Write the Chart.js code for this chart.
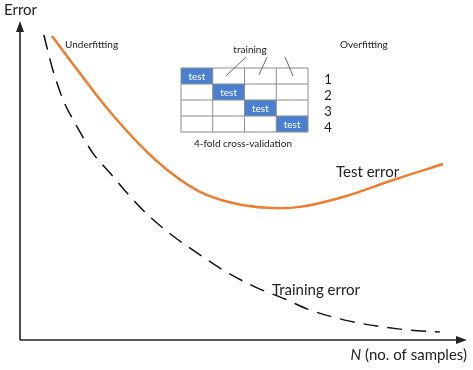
<!DOCTYPE html>
<html><head><meta charset="utf-8">
<script src="https://cdn.jsdelivr.net/npm/chart.js@4"></script>
<style>html,body{margin:0;padding:0;background:#fff}#wrap{width:473px;height:370px}</style>
</head><body><div id="wrap"><canvas id="c" width="473" height="370"></canvas></div>
<script>
// N (relative, 0-100) and error (relative, 0-100)
const testN    = [7.1, 13.3, 19.3, 26.7, 33.3, 40.0, 47.3, 54.9, 62.2, 71.8, 82.9, 94.0];
const testErr  = [95, 83.4, 72.5, 60.9, 52.5, 46.3, 42.8, 41.3, 41.6, 44.7, 50.0, 55.0];
const trainN   = [5.3, 7.3, 9.6, 12.7, 16.2, 20.0, 23.8, 28.4, 34.0, 40.0, 45.8, 52.2, 58.9, 64.4, 73.3, 84.4, 93.3];
const trainErr = [95.3, 84.4, 75, 66.6, 58.4, 52.2, 45.9, 39.1, 32.5, 26.6, 21.3, 16.6, 12.8, 9.4, 5.9, 3.4, 2.5];
const foldLabels = ['1','2','3','4'];
const cellLabel = 'test';

const FONT = 'Lato, "Liberation Sans", sans-serif';

const decor = {
  id: 'decor',
  afterDatasetsDraw(chart) {
    const ctx = chart.ctx, a = chart.chartArea;
    ctx.save();
    // axes with arrows
    ctx.strokeStyle = '#222'; ctx.fillStyle = '#222'; ctx.lineWidth = 1.6;
    ctx.beginPath(); ctx.moveTo(a.left, a.bottom); ctx.lineTo(a.left, a.top + 8);
    ctx.moveTo(a.left, a.bottom); ctx.lineTo(a.right - 10, a.bottom); ctx.stroke();
    ctx.beginPath(); ctx.moveTo(a.left, a.top + 1); ctx.lineTo(a.left - 4, a.top + 12); ctx.lineTo(a.left + 4, a.top + 12); ctx.closePath(); ctx.fill();
    ctx.beginPath(); ctx.moveTo(a.right - 3, a.bottom); ctx.lineTo(a.right - 14, a.bottom - 4); ctx.lineTo(a.right - 14, a.bottom + 4); ctx.closePath(); ctx.fill();

    // texts
    ctx.textBaseline = 'middle';
    ctx.fillStyle = '#222';
    ctx.font = '15px ' + FONT; ctx.textAlign = 'left';
    ctx.fillText('Error', 4, 10);
    ctx.font = '10px ' + FONT;
    ctx.fillText('Underfitting', 65, 45);
    ctx.fillText('Overfitting', 340, 45);
    ctx.font = '15px ' + FONT;
    ctx.fillText('Test error', 336, 172);
    ctx.fillText('Training error', 272, 290);
    // x axis title
    ctx.textAlign = 'right';
    ctx.font = '15px ' + FONT;
    const rest = ' (no. of samples)';
    const wRest = ctx.measureText(rest).width;
    ctx.fillText(rest, 467, 355);
    ctx.font = 'italic 15px ' + FONT;
    ctx.fillText('N', 467 - wRest, 355);

    // cross-validation table
    const tx = 181, ty = 68, cw = 31.75, rh = 16, n = 4;
    for (let r = 0; r < n; r++) {
      ctx.fillStyle = '#4a80d0';
      ctx.fillRect(tx + r * cw, ty + r * rh, cw, rh);
    }
    ctx.strokeStyle = '#8c8c8c'; ctx.lineWidth = 1;
    ctx.beginPath();
    for (let i = 0; i <= n; i++) {
      ctx.moveTo(tx + i * cw, ty); ctx.lineTo(tx + i * cw, ty + n * rh);
      ctx.moveTo(tx, ty + i * rh); ctx.lineTo(tx + n * cw, ty + i * rh);
    }
    ctx.stroke();
    ctx.fillStyle = '#fff'; ctx.font = '10px ' + FONT; ctx.textAlign = 'center';
    for (let r = 0; r < n; r++) ctx.fillText(cellLabel, tx + r * cw + cw / 2, ty + r * rh + rh / 2 + 0.5);
    ctx.fillStyle = '#222'; ctx.font = '13px ' + FONT;
    foldLabels.forEach((l, r) => ctx.fillText(l, 328, ty + r * rh + rh / 2 + 4));
    ctx.font = '10px ' + FONT;
    ctx.fillText('training', 250, 50);
    ctx.fillText('4-fold cross-validation', 243, 144);
    ctx.strokeStyle = '#444'; ctx.lineWidth = 0.8;
    ctx.beginPath();
    ctx.moveTo(246, 57); ctx.lineTo(226, 76);
    ctx.moveTo(267, 57); ctx.lineTo(259, 75);
    ctx.moveTo(285, 57); ctx.lineTo(293, 76);
    ctx.stroke();
    ctx.restore();
  }
};

new Chart(document.getElementById('c'), {
  type: 'line',
  data: {
    datasets: [
      { label: 'Test error', data: testN.map((x, i) => ({x, y: testErr[i]})),
        borderColor: '#ed7d31', borderWidth: 2.5, pointRadius: 0, fill: false, tension: 0.4 },
      { label: 'Training error', data: trainN.map((x, i) => ({x, y: trainErr[i]})),
        borderColor: '#111', borderWidth: 1.5, borderDash: [15, 9], pointRadius: 0, fill: false, cubicInterpolationMode: 'monotone' }
    ]
  },
  options: {
    responsive: false, animation: false, devicePixelRatio: 1,
    layout: { padding: { left: 20, right: 3, top: 20, bottom: 30 } },
    plugins: { legend: { display: false }, tooltip: { enabled: false } },
    scales: {
      x: { type: 'linear', min: 0, max: 100, display: false },
      y: { type: 'linear', min: 0, max: 100, display: false }
    }
  },
  plugins: [decor]
});
</script></body></html>
